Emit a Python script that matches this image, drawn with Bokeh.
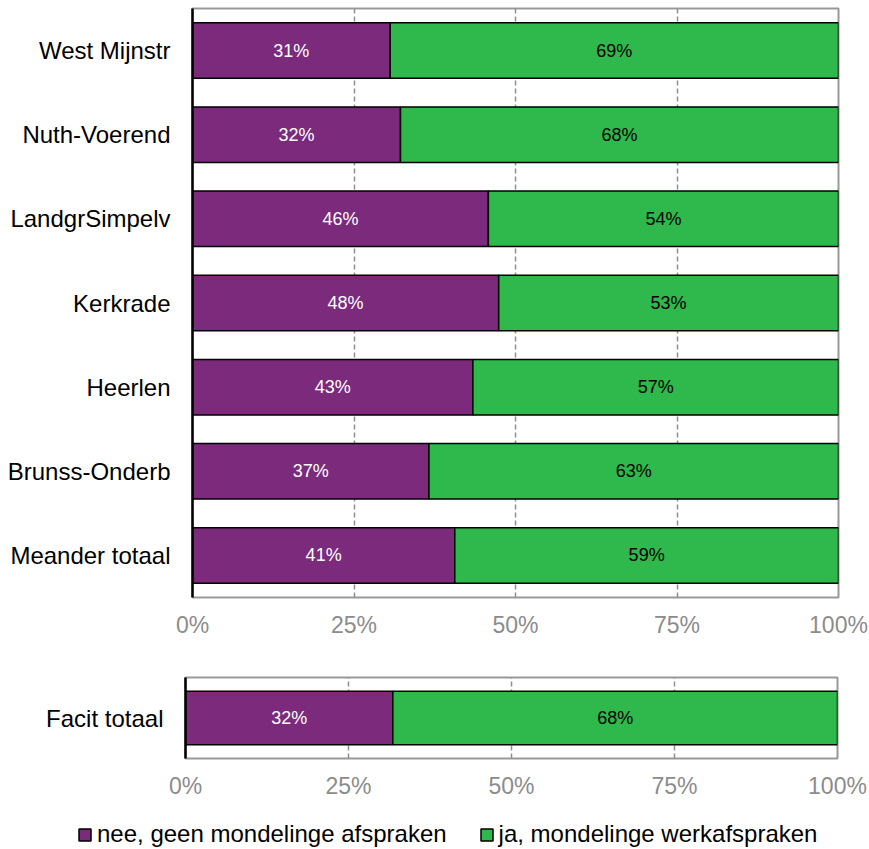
from bokeh.plotting import figure
from bokeh.models import (ColumnDataSource, FactorRange, Range1d, FixedTicker,
                          PrintfTickFormatter, Legend, LegendItem)
from bokeh.layouts import column, row
from bokeh.core.properties import value
from bokeh.embed import file_html
from bokeh.resources import INLINE

# ---- data ----
categories = ["West Mijnstr", "Nuth-Voerend", "LandgrSimpelv", "Kerkrade",
              "Heerlen", "Brunss-Onderb", "Meander totaal"]
nee_values = [30.6, 32.2, 45.8, 47.4, 43.4, 36.6, 40.6]
ja_values = [69.4, 67.8, 54.2, 52.6, 56.6, 63.4, 59.4]
nee_labels = ["31%", "32%", "46%", "48%", "43%", "37%", "41%"]
ja_labels = ["69%", "68%", "54%", "53%", "57%", "63%", "59%"]

total_categories = ["Facit totaal"]
total_nee_values = [31.8]
total_ja_values = [68.2]
total_nee_labels = ["32%"]
total_ja_labels = ["68%"]

series_names = ["nee, geen mondelinge afspraken", "ja, mondelinge werkafspraken"]
x_ticks = [0, 25, 50, 75, 100]
grid_ticks = [25, 50, 75]

PURPLE = "#7B2A7C"
GREEN = "#2FB84B"
FONT = "Liberation Sans"


def make_fig(cats, nee, ja, nl, jl, fw, fh, bl, br, bt, bb):
    src = ColumnDataSource(dict(
        cat=cats,
        nee=nee,
        ja=ja,
        total=[a + b for a, b in zip(nee, ja)],
        nee_mid=[a / 2 for a in nee],
        ja_mid=[a + b / 2 for a, b in zip(nee, ja)],
        nee_label=nl,
        ja_label=jl,
    ))
    p = figure(frame_width=fw, frame_height=fh,
               x_range=Range1d(0, 100),
               y_range=FactorRange(factors=list(reversed(cats)), range_padding=0),
               output_backend="svg", toolbar_location=None,
               min_border_left=bl, min_border_right=br,
               min_border_top=bt, min_border_bottom=bb,
               background_fill_color="white", border_fill_color="white")
    p.hbar(y="cat", left=0, right="nee", height=0.66, source=src,
           fill_color=PURPLE, line_color="black", line_width=1.5)
    p.hbar(y="cat", left="nee", right="total", height=0.66, source=src,
           fill_color=GREEN, line_color="black", line_width=1.5)
    p.text(x="nee_mid", y="cat", text="nee_label", source=src,
           text_align="center", text_baseline="middle",
           text_font=value(FONT), text_font_size="18px", text_color="white")
    p.text(x="ja_mid", y="cat", text="ja_label", source=src,
           text_align="center", text_baseline="middle",
           text_font=value(FONT), text_font_size="18px", text_color="black")

    p.outline_line_color = "#999999"
    p.outline_line_width = 2
    p.ygrid.grid_line_color = None
    p.xgrid.ticker = FixedTicker(ticks=grid_ticks)
    p.xgrid.grid_line_color = "#8f8f8f"
    p.xgrid.grid_line_width = 1.5
    p.xgrid.grid_line_dash = "5 3"

    p.xaxis.ticker = FixedTicker(ticks=x_ticks)
    p.xaxis.formatter = PrintfTickFormatter(format="%d%%")
    p.xaxis.axis_line_color = None
    p.xaxis.major_tick_line_color = None
    p.xaxis.minor_tick_line_color = None
    p.xaxis.major_label_text_color = "#8c8c8c"
    p.xaxis.major_label_text_font = FONT
    p.xaxis.major_label_text_font_size = "23px"
    p.xaxis.major_label_standoff = 8

    p.yaxis.axis_line_color = "black"
    p.yaxis.axis_line_width = 2.5
    p.yaxis.major_tick_line_color = None
    p.yaxis.minor_tick_line_color = None
    p.yaxis.major_label_text_color = "black"
    p.yaxis.major_label_text_font = FONT
    p.yaxis.major_label_text_font_size = "24px"
    p.yaxis.major_label_standoff = 16
    return p


p1 = make_fig(categories, nee_values, ja_values, nee_labels, ja_labels,
              646, 589, 192, 31, 8, 50)
p2 = make_fig(total_categories, total_nee_values, total_ja_values,
              total_nee_labels, total_ja_labels,
              652, 81, 185, 32, 30, 45)

# legend strip (proxy renderers hold no drawable point; only the swatches show)
p3 = figure(frame_width=869, frame_height=46, x_range=Range1d(0, 1),
            y_range=Range1d(0, 1), output_backend="svg", toolbar_location=None,
            x_axis_location=None, y_axis_location=None,
            min_border_left=0, min_border_right=0, min_border_top=0,
            min_border_bottom=0)
p3.outline_line_color = None
p3.grid.grid_line_color = None
proxy = ColumnDataSource(dict(y=[float("nan")], left=[float("nan")],
                              right=[float("nan")]))
lr1 = p3.hbar(y="y", left="left", right="right", height=1, source=proxy,
              fill_color=PURPLE, line_color="black", line_width=1.5)
lr2 = p3.hbar(y="y", left="left", right="right", height=1, source=proxy,
              fill_color=GREEN, line_color="black", line_width=1.5)
legend = Legend(items=[LegendItem(label=series_names[0], renderers=[lr1]),
                       LegendItem(label=series_names[1], renderers=[lr2])],
                orientation="horizontal", location=(77, 1),
                glyph_width=15, glyph_height=15, label_standoff=5, spacing=32,
                padding=0, margin=0, border_line_color=None,
                background_fill_alpha=0,
                label_text_font=FONT, label_text_font_size="24px",
                label_text_color="black")
p3.add_layout(legend, "center")

layout = column(p1, row(p2), row(p3), spacing=0)
open("out.html", "w").write(file_html(layout, INLINE))
